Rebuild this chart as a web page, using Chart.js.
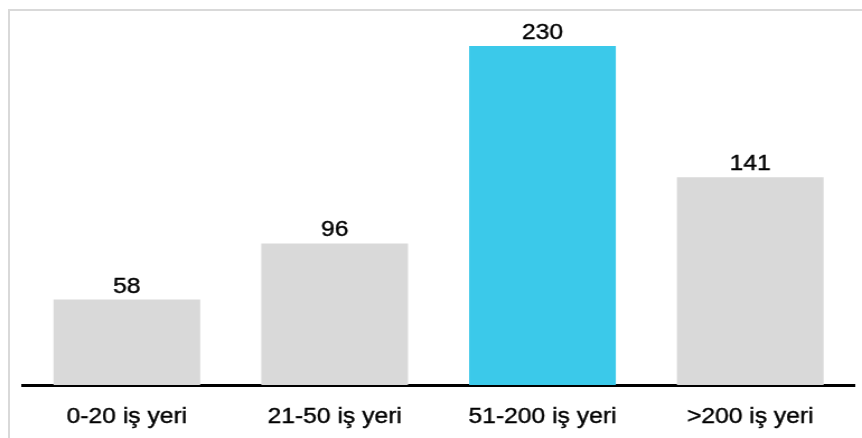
<!DOCTYPE html>
<html>
<head>
<meta charset="utf-8">
<script src="https://cdn.jsdelivr.net/npm/chart.js@4"></script>
<style>
  html, body { margin: 0; padding: 0; background: #fff; width: 862px; height: 438px; overflow: hidden; }
  #frame { position: absolute; left: 8px; top: 9px; width: 870px; height: 440px;
           border-top: 2px solid #d9d9d9; border-left: 2px solid #d9d9d9; }
  #wrap { position: absolute; left: 0; top: 0; width: 770px; height: 438px;
          transform: scaleX(1.11948); transform-origin: 0 0; }
  canvas { display: block; }
</style>
</head>
<body>
<div id="frame"></div>
<div id="wrap"><canvas id="c" width="770" height="438" style="width:770px;height:438px"></canvas></div>
<script>
const categories = ["0-20 iş yeri", "21-50 iş yeri", "51-200 iş yeri", ">200 iş yeri"];
const values = [58, 96, 230, 141];
const barColors = ["#d9d9d9", "#d9d9d9", "#3bc9ea", "#d9d9d9"];

const valueLabels = {
  id: 'valueLabels',
  afterDatasetsDraw(chart) {
    const ctx = chart.ctx;
    const meta = chart.getDatasetMeta(0);
    ctx.save();
    ctx.font = '22px "Liberation Sans", Arial, sans-serif';
    ctx.fillStyle = '#000';
    ctx.strokeStyle = '#000';
    ctx.lineWidth = 0.4;
    ctx.textAlign = 'center';
    ctx.textBaseline = 'alphabetic';
    meta.data.forEach((bar, i) => {
      ctx.fillText(String(values[i]), bar.x, bar.y - 7);
      ctx.strokeText(String(values[i]), bar.x, bar.y - 7);
    });
    ctx.restore();
  }
};

new Chart(document.getElementById('c'), {
  type: 'bar',
  data: {
    labels: categories,
    datasets: [{
      data: values,
      backgroundColor: barColors,
      borderWidth: 0,
      barPercentage: 0.706,
      categoryPercentage: 1.0
    }]
  },
  options: {
    responsive: false,
    animation: false,
    devicePixelRatio: 1,
    layout: { padding: { left: 20.5, right: 7, top: 16.5, bottom: 0 } },
    plugins: { legend: { display: false }, tooltip: { enabled: false } },
    scales: {
      x: {
        grid: { display: false, drawTicks: false },
        border: { display: true, color: '#000', width: 3 },
        ticks: {
          color: '#000',
          padding: 19,
          textStrokeColor: '#000',
          textStrokeWidth: 0.4,
          font: { family: '"Liberation Sans", Arial, sans-serif', size: 22 }
        },
        afterFit(scale) { scale.height = 53; }
      },
      y: {
        display: false,
        min: 0,
        max: 250
      }
    }
  },
  plugins: [valueLabels]
});
</script>
</body>
</html>
